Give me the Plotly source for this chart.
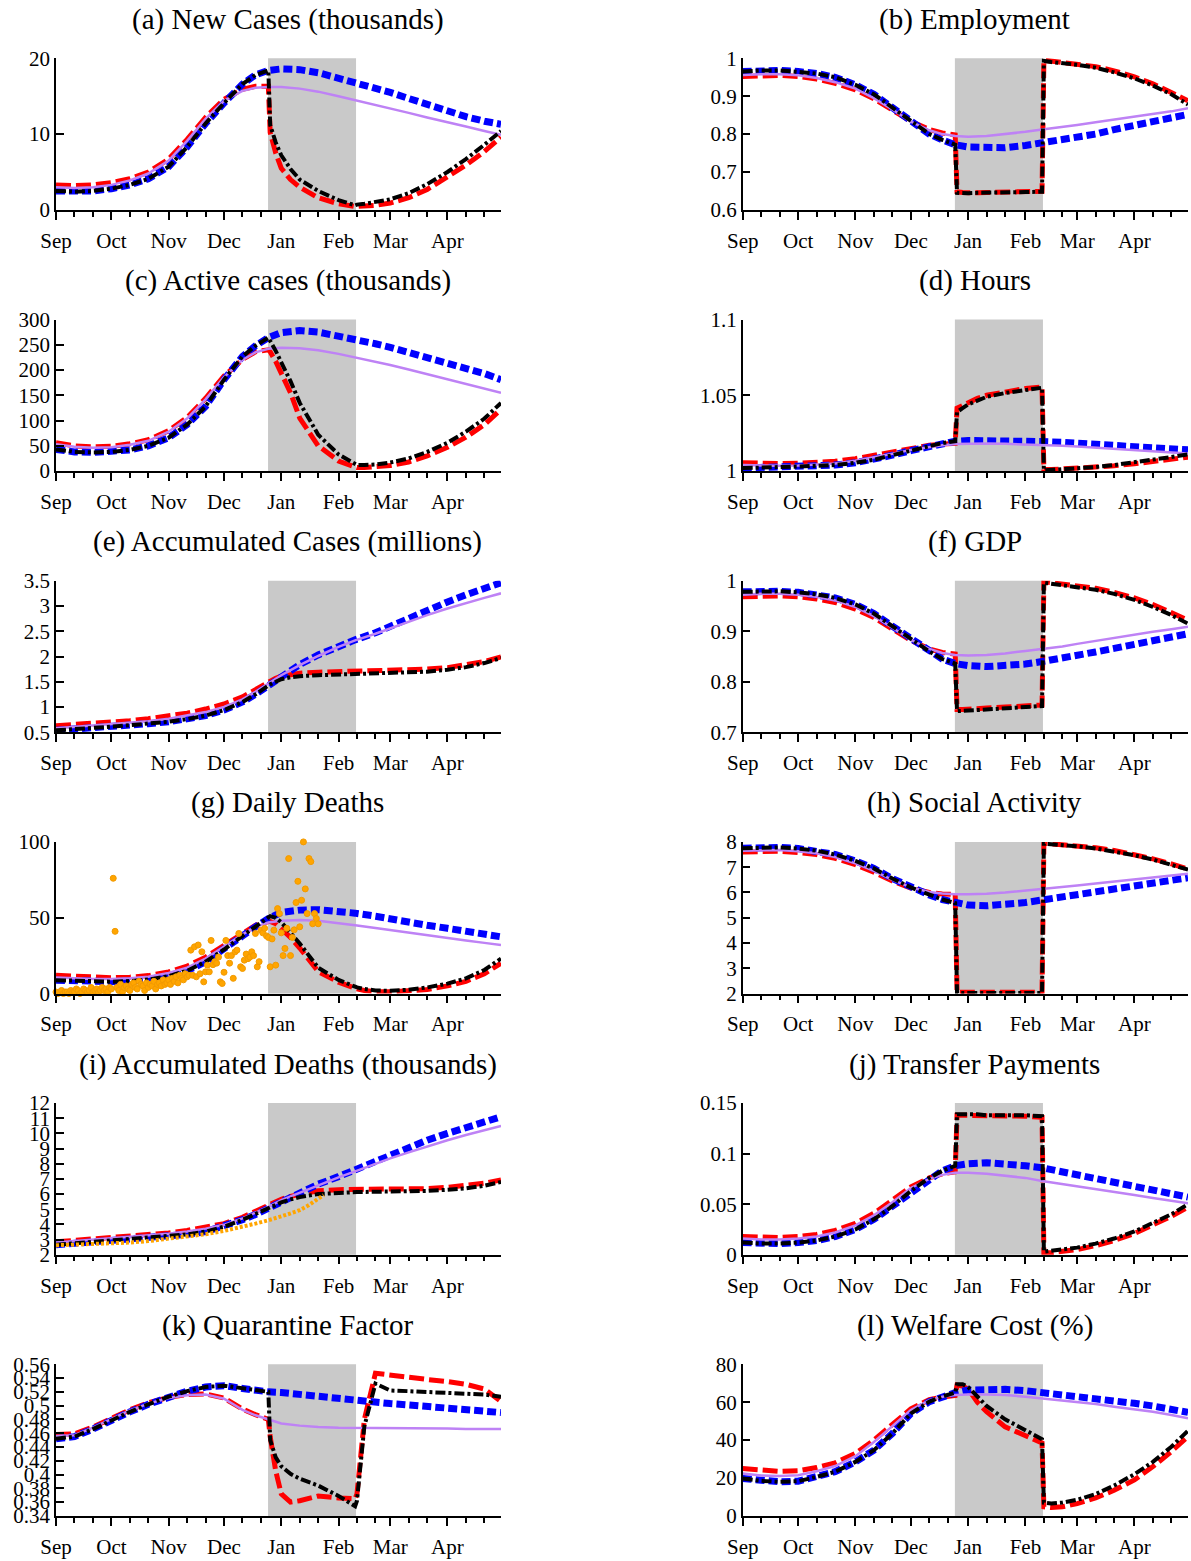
import plotly.graph_objects as go
import pandas as pd

W, H = 1191, 1561
SERIF = "Liberation Serif, Times New Roman, serif"

# ---------------- dates ----------------
NL_DATES = ["2020-09-01", "2020-09-11", "2020-09-21", "2020-10-01", "2020-10-11", "2020-10-21",
            "2020-11-01", "2020-11-11", "2020-11-21", "2020-12-01", "2020-12-11", "2020-12-18",
            "2020-12-25", "2021-01-01", "2021-01-11", "2021-01-21", "2021-02-01", "2021-02-10",
            "2021-02-21", "2021-03-01", "2021-03-11", "2021-03-21", "2021-04-01", "2021-04-11",
            "2021-04-21", "2021-04-30"]
LD_DATES = NL_DATES[:13] + ["2020-12-26", "2020-12-29", "2021-01-01", "2021-01-06", "2021-01-11",
                            "2021-01-21", "2021-02-01", "2021-02-10", "2021-02-11", "2021-02-15",
                            "2021-02-21", "2021-03-01", "2021-03-11", "2021-03-21", "2021-04-01",
                            "2021-04-11", "2021-04-21", "2021-04-30"]
X_START, X_END = "2020-09-01", "2021-04-30"
SHADE_START, SHADE_END = "2020-12-24 20:00", "2021-02-10 12:00"
MONTH_TICKS = ["2020-09-01", "2020-10-01", "2020-11-01", "2020-12-01",
               "2021-01-01", "2021-02-01", "2021-03-01", "2021-04-01"]
MONTH_LABELS = ["Sep", "Oct", "Nov", "Dec", "Jan", "Feb", "Mar", "Apr"]
MINOR_TICKS = ["2020-09-11", "2020-09-21", "2020-10-11", "2020-10-21", "2020-11-11", "2020-11-21",
               "2020-12-11", "2020-12-21", "2021-01-11", "2021-01-21", "2021-02-11", "2021-02-21",
               "2021-03-11", "2021-03-21", "2021-04-11", "2021-04-21"]

# ---------------- (a) New cases ----------------
a_blue = [2.5, 2.4, 2.5, 2.8, 3.3, 4.1, 5.7, 8.3, 11.4, 14.1, 16.6, 17.8, 18.4, 18.6, 18.5, 18.1,
          17.4, 16.9, 16.2, 15.5, 14.7, 13.9, 13.0, 12.3, 11.7, 11.3]
a_purple = [3.0, 2.9, 3.0, 3.3, 3.9, 4.8, 6.5, 9.1, 12.0, 14.4, 15.7, 16.1, 16.2, 16.2, 16.0, 15.6,
            15.0, 14.5, 13.9, 13.4, 12.8, 12.2, 11.6, 11.0, 10.4, 9.9]
a_red = [3.3, 3.2, 3.3, 3.6, 4.1, 5.0, 6.7, 9.3, 12.2, 14.6, 15.9, 16.3, 16.3, 10.2, 7.5, 5.5, 4.0,
         3.0, 1.6, 0.8, 0.45, 0.45, 0.5, 0.6, 0.9, 1.6, 2.7, 4.3, 5.9, 7.7, 9.6]
a_black = [2.5, 2.4, 2.5, 2.8, 3.3, 4.1, 5.7, 8.3, 11.4, 14.1, 16.6, 17.8, 18.4, 11.2, 8.9, 7.2, 5.4,
           4.0, 2.5, 1.3, 0.6, 0.7, 0.8, 1.0, 1.4, 2.2, 3.4, 5.0, 6.7, 8.6, 10.4]

# ---------------- (b) Employment ----------------
b_blue = [0.965, 0.968, 0.968, 0.965, 0.960, 0.950, 0.930, 0.905, 0.870, 0.835, 0.800, 0.785, 0.772,
          0.766, 0.763, 0.764, 0.770, 0.777, 0.785, 0.790, 0.800, 0.812, 0.823, 0.833, 0.843, 0.852]
b_purple = [0.956, 0.958, 0.958, 0.955, 0.948, 0.937, 0.920, 0.895, 0.865, 0.833, 0.810, 0.800, 0.795,
            0.793, 0.795, 0.800, 0.806, 0.812, 0.818, 0.824, 0.831, 0.838, 0.846, 0.853, 0.860, 0.868]
b_red = [0.952, 0.955, 0.955, 0.952, 0.945, 0.934, 0.917, 0.893, 0.864, 0.834, 0.812, 0.803, 0.798,
         0.648, 0.646, 0.645, 0.645, 0.646, 0.647, 0.648, 0.649, 0.995, 0.993, 0.990, 0.986, 0.978,
         0.967, 0.951, 0.933, 0.911, 0.888]
b_black = [0.965, 0.968, 0.968, 0.965, 0.960, 0.950, 0.930, 0.905, 0.870, 0.835, 0.800, 0.785, 0.772,
           0.645, 0.644, 0.644, 0.645, 0.645, 0.646, 0.647, 0.648, 0.993, 0.990, 0.987, 0.983, 0.975,
           0.963, 0.947, 0.928, 0.905, 0.878]

# ---------------- (c) Active cases ----------------
c_blue = [43, 38, 37, 38, 42, 50, 66, 92, 128, 181, 227, 248, 264, 274, 278, 275, 268, 262, 252, 245,
          235, 226, 215, 205, 193, 181]
c_purple = [53, 48, 46, 47, 52, 60, 78, 104, 142, 186, 220, 235, 242, 244, 243, 239, 232, 225, 217,
            210, 201, 192, 182, 173, 164, 155]
c_red = [56, 50, 48, 49, 54, 62, 80, 106, 144, 188, 221, 236, 240, 236, 217, 195, 155, 105, 50, 20, 8,
         7, 7, 8, 11, 18, 30, 47, 67, 92, 122]
c_black = [43, 38, 37, 38, 42, 50, 66, 92, 128, 181, 227, 248, 264, 258, 238, 215, 178, 135, 72, 33,
           13, 12, 12, 13, 17, 25, 38, 56, 78, 104, 135]

# ---------------- (d) Hours ----------------
d_blue = [1.002, 1.0022, 1.0025, 1.003, 1.0035, 1.004, 1.0055, 1.0075, 1.0105, 1.0135, 1.0165, 1.0185,
          1.0197, 1.0202, 1.0203, 1.0202, 1.0199, 1.0195, 1.019, 1.0185, 1.0178, 1.0171, 1.0163,
          1.0155, 1.0147, 1.014]
d_purple = [1.004, 1.0035, 1.0035, 1.0037, 1.0042, 1.005, 1.0068, 1.009, 1.0115, 1.014, 1.016, 1.017,
            1.0178, 1.0181, 1.0182, 1.018, 1.0177, 1.0173, 1.0167, 1.0162, 1.0155, 1.0148, 1.014,
            1.0132, 1.0124, 1.0116]
d_red = [1.0055, 1.005, 1.005, 1.0052, 1.0057, 1.0065, 1.0082, 1.0103, 1.0128, 1.0152, 1.017, 1.0178,
         1.0183, 1.0415, 1.0435, 1.0455, 1.048, 1.050, 1.0525, 1.0545, 1.0555, 1.001, 1.001, 1.0013,
         1.0018, 1.0025, 1.0035, 1.0048, 1.0062, 1.0077, 1.0092]
d_black = [1.002, 1.0022, 1.0025, 1.003, 1.0035, 1.004, 1.0055, 1.0075, 1.0105, 1.0135, 1.0165, 1.0185,
           1.0197, 1.039, 1.0415, 1.044, 1.0465, 1.049, 1.0515, 1.0535, 1.055, 1.0005, 1.0008, 1.0012,
           1.0018, 1.0027, 1.004, 1.0057, 1.0075, 1.0093, 1.011]

# ---------------- (e) Accumulated cases ----------------
e_blue = [0.54, 0.56, 0.58, 0.61, 0.64, 0.67, 0.71, 0.76, 0.83, 0.94, 1.10, 1.25, 1.43, 1.62, 1.84,
          2.03, 2.21, 2.33, 2.47, 2.60, 2.76, 2.92, 3.08, 3.22, 3.35, 3.46]
e_purple = [0.58, 0.61, 0.63, 0.66, 0.69, 0.72, 0.77, 0.83, 0.90, 1.00, 1.15, 1.30, 1.47, 1.63, 1.83,
            2.01, 2.19, 2.32, 2.45, 2.56, 2.69, 2.82, 2.95, 3.06, 3.16, 3.25]
e_red = [0.63, 0.65, 0.68, 0.70, 0.73, 0.77, 0.82, 0.88, 0.96, 1.06, 1.20, 1.35, 1.50, 1.52, 1.57,
         1.61, 1.65, 1.67, 1.69, 1.70, 1.70, 1.70, 1.71, 1.71, 1.72, 1.73, 1.75, 1.78, 1.83, 1.90, 1.99]
e_black = [0.54, 0.56, 0.58, 0.61, 0.64, 0.67, 0.71, 0.76, 0.83, 0.94, 1.10, 1.25, 1.43, 1.45, 1.50,
           1.55, 1.59, 1.61, 1.63, 1.64, 1.65, 1.65, 1.65, 1.66, 1.67, 1.68, 1.70, 1.74, 1.79, 1.87, 1.97]

# ---------------- (f) GDP ----------------
f_blue = [0.978, 0.979, 0.979, 0.977, 0.973, 0.966, 0.953, 0.935, 0.910, 0.885, 0.860, 0.845, 0.836,
          0.832, 0.830, 0.831, 0.835, 0.840, 0.846, 0.852, 0.859, 0.866, 0.874, 0.881, 0.888, 0.895]
f_purple = [0.972, 0.974, 0.974, 0.972, 0.968, 0.961, 0.948, 0.930, 0.907, 0.883, 0.865, 0.857, 0.853,
            0.852, 0.853, 0.856, 0.861, 0.865, 0.870, 0.875, 0.881, 0.887, 0.893, 0.899, 0.904, 0.909]
f_red = [0.968, 0.970, 0.970, 0.968, 0.964, 0.957, 0.944, 0.927, 0.905, 0.882, 0.865, 0.858, 0.855,
         0.745, 0.745, 0.746, 0.747, 0.748, 0.750, 0.752, 0.754, 0.998, 0.996, 0.994, 0.991, 0.985,
         0.977, 0.966, 0.953, 0.938, 0.922]
f_black = [0.978, 0.979, 0.979, 0.977, 0.973, 0.966, 0.953, 0.935, 0.910, 0.885, 0.860, 0.845, 0.836,
           0.742, 0.742, 0.743, 0.744, 0.745, 0.747, 0.749, 0.752, 0.996, 0.994, 0.991, 0.988, 0.982,
           0.974, 0.962, 0.948, 0.932, 0.915]

# ---------------- (g) Daily deaths ----------------
g_blue = [8.8, 8.3, 8.0, 7.8, 8.2, 9.2, 11.5, 15.0, 21.0, 29.0, 38.0, 44.0, 49.5, 53.5, 55.0, 55.3,
          54.5, 53.0, 51.0, 49.0, 47.0, 45.0, 43.0, 41.0, 39.0, 37.4]
g_purple = [10.5, 10.0, 9.6, 9.5, 10.0, 11.0, 13.5, 17.0, 23.0, 31.0, 39.0, 44.0, 46.8, 48.0, 48.5,
            48.0, 46.5, 45.0, 43.2, 41.8, 40.0, 38.3, 36.6, 35.0, 33.4, 32.0]
g_red = [12.0, 11.2, 10.6, 10.4, 10.8, 11.8, 14.2, 18.0, 24.0, 32.0, 40.0, 45.0, 47.5, 47.5, 46.0,
         43.0, 37.0, 30.0, 14.5, 7.5, 3.3, 3.0, 2.0, 1.2, 1.1, 1.5, 2.6, 5.0, 8.0, 13.0, 20.0]
g_black = [8.8, 8.3, 8.0, 7.8, 8.2, 9.2, 11.5, 15.0, 21.0, 29.0, 38.0, 44.0, 49.5, 51.0, 50.0, 47.0,
           40.0, 33.0, 17.0, 9.0, 4.5, 4.0, 3.0, 2.0, 1.8, 2.5, 4.0, 6.5, 10.0, 15.5, 23.0]
DAILY_DEATHS = [1, 0, 1, 2, 0, 1, 1, 0, 2, 1, 1, 3, 2, 0, 1, 3, 2, 1, 2, 4, 1, 2, 3, 1, 2, 4, 2, 3, 1,
                4, 3,
                76, 41,
                4, 2, 6, 1, 4, 5, 3, 2, 6, 7, 4, 3, 8, 6, 5, 2, 7, 4, 6, 5, 8, 3, 6, 7, 5, 9, 6, 7,
                9, 6, 10, 8, 11, 7, 12, 10, 9, 13, 11, 12,
                28.6, 12, 30.8, 11, 32, 13, 27.5, 7.7, 14.3, 18.7,
                14.3, 35, 19, 21, 20, 24, 7.7, 6.6, 14, 35,
                25, 20, 25, 10, 27.5, 28.6, 39.6, 17.6, 16.5, 22,
                26, 23, 24, 27.5, 25, 39.6, 17.6, 21, 41.8, 40,
                43, 38, 37, 17.6, 36, 41.8, 18.7, 56, 52.7, 40,
                25, 29.7, 43, 89, 25, 37, 42, 60, 74, 44,
                61.5, 100, 69, 52.7, 89, 87, 46, 52.7, 49.5, 46]
DEATH_DATES = pd.date_range("2020-09-01", periods=len(DAILY_DEATHS), freq="D")

# ---------------- (h) Social activity ----------------
h_blue = [7.75, 7.78, 7.78, 7.74, 7.65, 7.50, 7.25, 6.95, 6.55, 6.20, 5.90, 5.72, 5.58, 5.50, 5.47,
          5.50, 5.60, 5.70, 5.82, 5.92, 6.04, 6.15, 6.27, 6.38, 6.48, 6.58]
h_purple = [7.65, 7.68, 7.68, 7.63, 7.55, 7.40, 7.15, 6.85, 6.50, 6.20, 6.02, 5.96, 5.93, 5.93, 5.95,
            6.00, 6.07, 6.13, 6.20, 6.27, 6.35, 6.43, 6.52, 6.60, 6.67, 6.74]
h_red = [7.60, 7.63, 7.63, 7.58, 7.50, 7.35, 7.10, 6.80, 6.45, 6.17, 6.00, 5.94, 5.92, 2.05, 2.05, 2.05,
         2.05, 2.05, 2.05, 2.05, 2.05, 7.95, 7.93, 7.90, 7.85, 7.77, 7.66, 7.50, 7.33, 7.13, 6.93]
h_black = [7.75, 7.78, 7.78, 7.74, 7.65, 7.50, 7.25, 6.95, 6.55, 6.20, 5.90, 5.72, 5.58, 2.02, 2.02,
           2.02, 2.02, 2.02, 2.02, 2.02, 2.02, 7.93, 7.91, 7.88, 7.83, 7.74, 7.63, 7.47, 7.30, 7.10, 6.90]

# ---------------- (i) Accumulated deaths ----------------
i_blue = [2.66, 2.75, 2.83, 2.91, 3.00, 3.09, 3.20, 3.34, 3.52, 3.85, 4.30, 4.65, 5.05, 5.55, 6.10,
          6.65, 7.15, 7.60, 8.20, 8.60, 9.10, 9.55, 10.00, 10.40, 10.80, 11.10]
i_purple = [2.80, 2.89, 2.98, 3.06, 3.15, 3.25, 3.38, 3.53, 3.72, 3.97, 4.40, 4.78, 5.15, 5.60, 6.10,
            6.60, 7.10, 7.50, 8.00, 8.35, 8.75, 9.15, 9.55, 9.90, 10.20, 10.50]
i_red = [2.85, 2.94, 3.02, 3.10, 3.20, 3.30, 3.44, 3.60, 3.80, 4.05, 4.47, 4.85, 5.25, 5.35, 5.50, 5.65,
         5.85, 6.00, 6.22, 6.29, 6.30, 6.30, 6.30, 6.31, 6.31, 6.32, 6.36, 6.44, 6.55, 6.72, 6.93]
i_black = [2.66, 2.75, 2.83, 2.91, 3.00, 3.09, 3.20, 3.34, 3.52, 3.85, 4.30, 4.65, 5.05, 5.12, 5.28,
           5.45, 5.65, 5.80, 6.00, 6.10, 6.13, 6.13, 6.14, 6.15, 6.16, 6.18, 6.21, 6.28, 6.38, 6.55, 6.80]
ACC_DEATH_DATES = ["2020-09-01", "2020-09-11", "2020-09-21", "2020-10-01", "2020-10-11", "2020-10-21",
                   "2020-11-01", "2020-11-11", "2020-11-21", "2020-12-01", "2020-12-11", "2020-12-18",
                   "2020-12-25", "2021-01-01", "2021-01-06", "2021-01-11", "2021-01-16", "2021-01-21",
                   "2021-01-24"]
ACC_DEATHS = [2.62, 2.65, 2.69, 2.73, 2.80, 2.90, 3.06, 3.17, 3.35, 3.57, 3.83, 4.05, 4.27, 4.50, 4.72,
              4.94, 5.27, 5.70, 5.93]

# ---------------- (j) Transfer payments ----------------
j_blue = [0.012, 0.011, 0.011, 0.012, 0.014, 0.018, 0.025, 0.035, 0.048, 0.063, 0.076, 0.083, 0.088,
          0.090, 0.091, 0.090, 0.088, 0.086, 0.082, 0.079, 0.075, 0.071, 0.067, 0.063, 0.060, 0.057]
j_purple = [0.016, 0.015, 0.015, 0.016, 0.018, 0.022, 0.029, 0.039, 0.052, 0.066, 0.075, 0.079, 0.081,
            0.081, 0.080, 0.078, 0.076, 0.073, 0.070, 0.068, 0.065, 0.062, 0.059, 0.056, 0.053, 0.051]
j_red = [0.018, 0.017, 0.017, 0.018, 0.020, 0.024, 0.031, 0.041, 0.054, 0.067, 0.076, 0.080, 0.082,
         0.138, 0.138, 0.138, 0.138, 0.138, 0.137, 0.137, 0.136, 0.002, 0.002, 0.003, 0.005, 0.009,
         0.014, 0.021, 0.029, 0.038, 0.047]
j_black = [0.012, 0.011, 0.011, 0.012, 0.014, 0.018, 0.025, 0.035, 0.048, 0.063, 0.076, 0.083, 0.088,
           0.139, 0.139, 0.139, 0.139, 0.138, 0.138, 0.138, 0.137, 0.003, 0.004, 0.005, 0.007, 0.011,
           0.016, 0.023, 0.031, 0.040, 0.050]

# ---------------- (k) Quarantine factor ----------------
k_blue = [0.452, 0.455, 0.466, 0.479, 0.491, 0.502, 0.513, 0.521, 0.527, 0.529, 0.525, 0.522, 0.520,
          0.519, 0.516, 0.514, 0.512, 0.509, 0.506, 0.503, 0.501, 0.499, 0.497, 0.494, 0.492, 0.490]
k_purple = [0.456, 0.457, 0.468, 0.481, 0.493, 0.503, 0.511, 0.515, 0.516, 0.510, 0.494, 0.486, 0.480,
            0.474, 0.471, 0.469, 0.468, 0.468, 0.467, 0.467, 0.467, 0.467, 0.467, 0.466, 0.466, 0.466]
k_red = [0.458, 0.459, 0.469, 0.482, 0.494, 0.504, 0.512, 0.516, 0.517, 0.511, 0.495, 0.487, 0.480,
         0.455, 0.405, 0.372, 0.360, 0.362, 0.369, 0.366, 0.365, 0.372, 0.480, 0.547, 0.544, 0.541,
         0.538, 0.535, 0.531, 0.524, 0.506]
k_black = [0.452, 0.455, 0.466, 0.479, 0.491, 0.502, 0.513, 0.521, 0.527, 0.529, 0.525, 0.522, 0.520,
           0.450, 0.425, 0.412, 0.401, 0.394, 0.384, 0.369, 0.354, 0.362, 0.470, 0.532, 0.522, 0.521,
           0.520, 0.519, 0.518, 0.516, 0.513]

# ---------------- (l) Welfare cost ----------------
l_blue = [19.7, 18.5, 18.0, 18.3, 20.6, 23.3, 28.5, 34.7, 43.5, 54.0, 60.3, 63.0, 65.0, 66.4, 66.8,
          66.8, 66.1, 65.2, 64.1, 63.3, 62.2, 60.8, 59.4, 58.0, 56.4, 54.6]
l_purple = [22.4, 21.3, 21.0, 21.5, 23.6, 26.3, 31.5, 39.0, 47.4, 55.9, 61.1, 62.9, 63.8, 64.1, 64.1,
            63.8, 62.9, 62.0, 61.1, 60.3, 59.0, 57.6, 56.2, 55.0, 53.2, 51.5]
l_red = [25.0, 24.0, 23.5, 23.8, 25.5, 28.0, 33.0, 40.0, 48.5, 56.5, 61.3, 62.8, 63.5, 69.0, 68.5, 67.0,
         60.0, 55.0, 47.0, 42.0, 38.5, 4.8, 4.4, 4.8, 6.5, 9.5, 13.5, 19.0, 26.0, 34.0, 42.0]
l_black = [19.7, 18.5, 18.0, 18.3, 20.6, 23.3, 28.5, 34.7, 43.5, 54.0, 60.3, 63.0, 65.0, 69.5, 69.5,
           68.0, 63.0, 58.0, 51.0, 45.0, 40.5, 7.0, 6.5, 7.0, 8.5, 11.5, 16.0, 22.0, 28.5, 36.5, 45.0]

PANELS = [
    ("(a) New Cases (thousands)", [0, 20], [0, 10, 20], ["0", "10", "20"], a_blue, a_purple, a_red, a_black),
    ("(b) Employment", [0.6, 1.0], [0.6, 0.7, 0.8, 0.9, 1.0], ["0.6", "0.7", "0.8", "0.9", "1"],
     b_blue, b_purple, b_red, b_black),
    ("(c) Active cases (thousands)", [0, 300], [0, 50, 100, 150, 200, 250, 300],
     ["0", "50", "100", "150", "200", "250", "300"], c_blue, c_purple, c_red, c_black),
    ("(d) Hours", [1.0, 1.1], [1.0, 1.05, 1.1], ["1", "1.05", "1.1"], d_blue, d_purple, d_red, d_black),
    ("(e) Accumulated Cases (millions)", [0.5, 3.5], [0.5, 1, 1.5, 2, 2.5, 3, 3.5],
     ["0.5", "1", "1.5", "2", "2.5", "3", "3.5"], e_blue, e_purple, e_red, e_black),
    ("(f) GDP", [0.7, 1.0], [0.7, 0.8, 0.9, 1.0], ["0.7", "0.8", "0.9", "1"], f_blue, f_purple, f_red, f_black),
    ("(g) Daily Deaths", [0, 100], [0, 50, 100], ["0", "50", "100"], g_blue, g_purple, g_red, g_black),
    ("(h) Social Activity", [2, 8], [2, 3, 4, 5, 6, 7, 8], ["2", "3", "4", "5", "6", "7", "8"],
     h_blue, h_purple, h_red, h_black),
    ("(i) Accumulated Deaths (thousands)", [2, 12], list(range(2, 13)), [str(v) for v in range(2, 13)],
     i_blue, i_purple, i_red, i_black),
    ("(j) Transfer Payments", [0, 0.15], [0, 0.05, 0.1, 0.15], ["0", "0.05", "0.1", "0.15"],
     j_blue, j_purple, j_red, j_black),
    ("(k) Quarantine Factor", [0.34, 0.56],
     [0.34, 0.36, 0.38, 0.40, 0.42, 0.44, 0.46, 0.48, 0.50, 0.52, 0.54, 0.56],
     ["0.34", "0.36", "0.38", "0.4", "0.42", "0.44", "0.46", "0.48", "0.5", "0.52", "0.54", "0.56"],
     k_blue, k_purple, k_red, k_black),
    ("(l) Welfare Cost (%)", [0, 80], [0, 20, 40, 60, 80], ["0", "20", "40", "60", "80"],
     l_blue, l_purple, l_red, l_black),
]

# ---------------- styles / geometry ----------------
RED = dict(color="#FF0000", width=5, dash="15px,5px")
PURPLE = dict(color="#BE82F5", width=2.5)
BLUE = dict(color="#0000FF", width=7, dash="9px,4px")
BLACK = dict(color="#000000", width=4, dash="10px,3px,3px,3px")
ORANGE = "#FFA500"
SHADE = "#C9C9C9"

COL_X = [(56.0, 501.0), (742.7, 1188.0)]
TITLE_CX = [287.5, 974.5]
TOP0, ROWSTEP, PH = 58.3, 261.2, 151.6

fig = go.Figure()
layout = dict(width=W, height=H, autosize=False,
              margin=dict(l=0, r=0, t=0, b=0, pad=0, autoexpand=False),
              paper_bgcolor="white", plot_bgcolor="white", showlegend=False,
              shapes=[], annotations=[])

tickfont = dict(family=SERIF, size=21, color="black")

for idx, (title, yr, ytv, ytt, blue, purple, red, black) in enumerate(PANELS):
    n = idx + 1
    r, c = divmod(idx, 2)
    top = TOP0 + ROWSTEP * r
    bot = top + PH
    xs = "" if n == 1 else str(n)
    xa, ya = "x" + xs, "y" + xs
    eps = (yr[1] - yr[0]) * 1e-6
    layout["xaxis" + xs] = dict(
        domain=[COL_X[c][0] / W, COL_X[c][1] / W], anchor=ya, type="date",
        range=[X_START, X_END], tickmode="array", tickvals=MONTH_TICKS, ticktext=MONTH_LABELS,
        ticks="outside", ticklen=8, tickwidth=1.5, tickcolor="black", automargin=False,
        showline=True, linecolor="black", linewidth=1.5, showgrid=False, zeroline=False,
        tickfont=tickfont, ticklabelstandoff=3, fixedrange=True,
        minor=dict(tickmode="array", tickvals=MINOR_TICKS, ticks="outside", ticklen=5,
                   tickwidth=1.5, tickcolor="black", showgrid=False))
    layout["yaxis" + xs] = dict(
        domain=[1 - bot / H, 1 - top / H], anchor=xa, range=[yr[0] - eps, yr[1] + eps],
        tickmode="array", tickvals=ytv, ticktext=ytt, automargin=False,
        ticks="inside", ticklen=8, tickwidth=1.5, tickcolor="black",
        showline=True, linecolor="black", linewidth=1.5, showgrid=False, zeroline=False,
        tickfont=tickfont, fixedrange=True)
    layout["shapes"].append(dict(type="rect", xref=xa, yref=ya + " domain", x0=SHADE_START,
                                 x1=SHADE_END, y0=0, y1=1, fillcolor=SHADE, line=dict(width=0),
                                 layer="below"))
    layout["annotations"].append(dict(text=title, xref="paper", yref="paper",
                                      x=TITLE_CX[c] / W, y=1 - (top - 39) / H,
                                      xanchor="center", yanchor="middle", showarrow=False,
                                      font=dict(family=SERIF, size=29, color="black")))

    fig.add_trace(go.Scatter(x=LD_DATES, y=red, xaxis=xa, yaxis=ya, mode="lines", line=RED,
                             hoverinfo="skip"))
    fig.add_trace(go.Scatter(x=NL_DATES, y=blue, xaxis=xa, yaxis=ya, mode="lines", line=BLUE,
                             hoverinfo="skip"))
    fig.add_trace(go.Scatter(x=NL_DATES, y=purple, xaxis=xa, yaxis=ya, mode="lines", line=PURPLE,
                             hoverinfo="skip"))
    fig.add_trace(go.Scatter(x=LD_DATES, y=black, xaxis=xa, yaxis=ya, mode="lines", line=BLACK,
                             hoverinfo="skip"))
    if idx == 6:
        fig.add_trace(go.Scatter(x=DEATH_DATES, y=DAILY_DEATHS, xaxis=xa, yaxis=ya, mode="markers",
                                 marker=dict(color=ORANGE, size=6, line=dict(width=1, color="#F29A00")),
                                 cliponaxis=False, hoverinfo="skip"))
    if idx == 8:
        fig.add_trace(go.Scatter(x=ACC_DEATH_DATES, y=ACC_DEATHS, xaxis=xa, yaxis=ya, mode="lines",
                                 line=dict(color=ORANGE, width=4, dash="3px,2px"),
                                 hoverinfo="skip"))

fig.update_layout(**layout)
fig.write_html("out.html", config={"displayModeBar": False},
               post_script="document.body.style.margin='0px';")
